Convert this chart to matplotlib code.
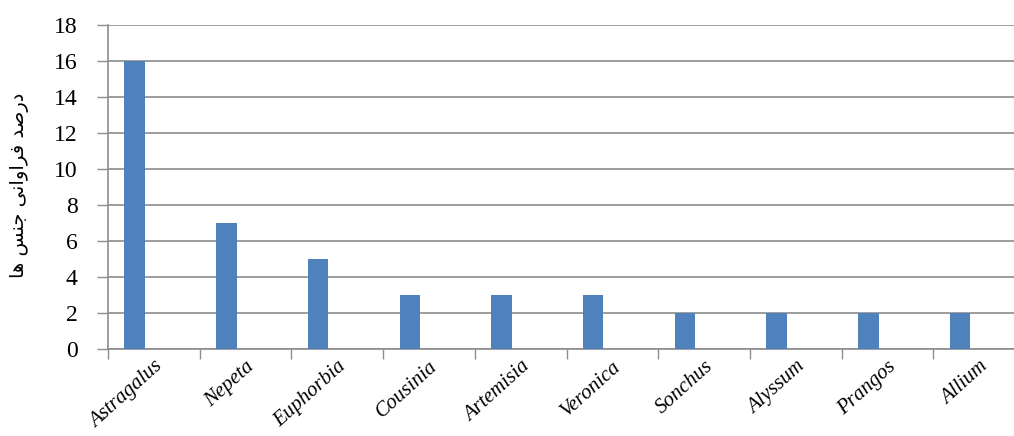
import numpy as np
import matplotlib
matplotlib.use('Agg')
import matplotlib.pyplot as plt
from matplotlib.ticker import FixedLocator

# data
genera = ['Astragalus', 'Nepeta', 'Euphorbia', 'Cousinia', 'Artemisia',
          'Veronica', 'Sonchus', 'Alyssum', 'Prangos', 'Allium']
percent = [16, 7, 5, 3, 3, 3, 2, 2, 2, 2]
yticks = [0, 2, 4, 6, 8, 10, 12, 14, 16, 18]

# "درصد فراوانی جنس ها" written with presentation forms, reversed for LTR drawing
ylabel_logical = '\uFEA9\uFEAD\uFEBB\uFEAA \uFED3\uFEAE\uFE8D\uFEED\uFE8D\uFEE7\uFEF0 \uFE9F\uFEE8\uFEB2 \uFEEB\uFE8E'
ylabel_visual = ylabel_logical[::-1]

bar_color = '#4F81BD'
grey = '#8C8C8C'

fig = plt.figure(figsize=(10.14, 4.36), dpi=100)
ax = fig.add_axes([108 / 1014, 87 / 436, 1 - 108 / 1014, 324 / 436])

x = np.arange(len(genera))
ax.bar(x - 0.209, percent, width=0.224, color=bar_color, zorder=3)

ax.set_xlim(-0.5, 9.38)
ax.set_ylim(0, 18)

ax.set_yticks(yticks)
ax.set_yticklabels([str(v) for v in yticks], fontsize=17, family='Liberation Serif')
ax.yaxis.grid(True, color=grey, linewidth=1.2, zorder=0)
ax.tick_params(axis='y', length=8, width=1.0, color=grey, pad=14)

ax.set_xticks(x)
ax.set_xticklabels(genera, rotation=42, ha='right', va='top', rotation_mode='anchor',
                   fontsize=15, family='Liberation Serif', style='italic')
ax.tick_params(axis='x', which='major', length=0, pad=6)
ax.xaxis.set_minor_locator(FixedLocator(np.arange(-0.5, 9.0, 1.0)))
ax.tick_params(axis='x', which='minor', length=7, width=1.0, color=grey)

for s in ['top', 'right']:
    ax.spines[s].set_visible(False)
for s in ['left', 'bottom']:
    ax.spines[s].set_color(grey)
    ax.spines[s].set_linewidth(1.2)
ax.set_axisbelow(True)

fig.text(20 / 1014, 1 - 185 / 436, ylabel_visual, rotation=90, ha='center', va='center',
         fontsize=14, family=['DejaVu Sans'])

fig.savefig('out.png', dpi=100)
